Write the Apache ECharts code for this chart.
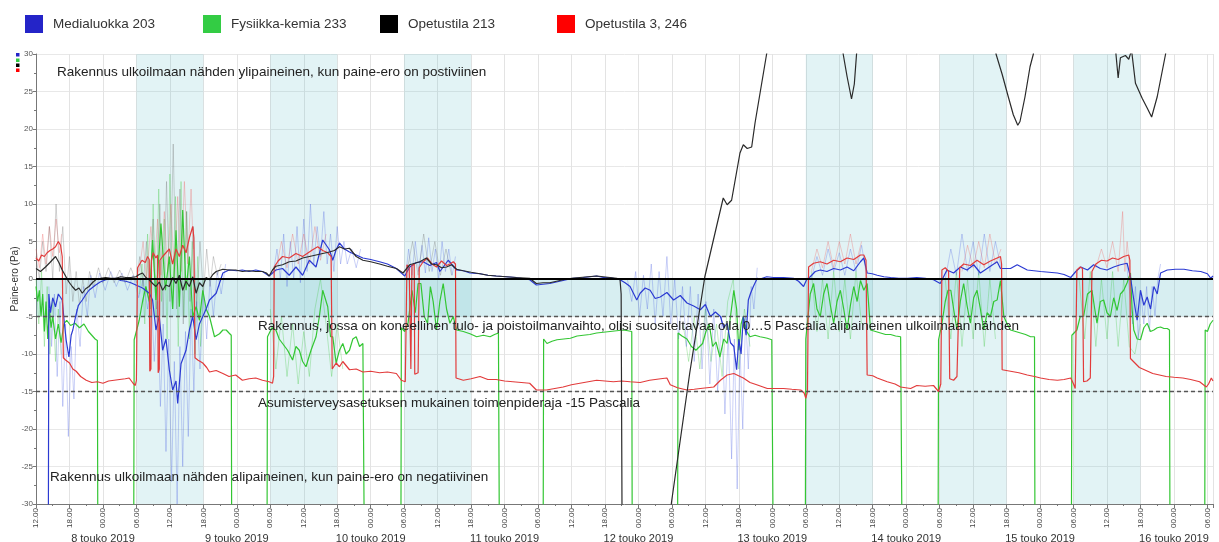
<!DOCTYPE html>
<html>
<head>
<meta charset="utf-8">
<script src="https://cdn.jsdelivr.net/npm/echarts@6/dist/echarts.min.js"></script>
<style>
html,body{margin:0;padding:0;background:#fff;}
#chart{width:1219px;height:542px;}
</style>
</head>
<body>
<div id="chart"></div>
<script>
// x values: hours since 7 May 2019 00:00
const seriesNames = ['Medialuokka 203', 'Fysiikka-kemia 233', 'Opetustila 213', 'Opetustila 3, 246'];
const dayBands = [[30,42],[54,66],[78,90],[150,162],[174,186],[198,210]];
const refLevels = [-5, -15];
const xMin = 12, xMax = 223;

const blueMain = [[12,-40],[14.2,-40],[14.3,-2],[14.6,-4.5],[15,-2.5],[15.5,-3.7],[16,-2],[16.7,-2.8],[17.1,-6],[17.4,-8.1],[17.9,-10.4],[18.3,-7.5],[18.6,-6.8],[19.1,-5],[19.6,-3.5],[20.3,-2.8],[21,-2],[21.5,-1.5],[22.7,-0.8],[23.5,-0.4],[24.5,-0.1],[25.5,0],[26.3,0.1],[27.2,-0.2],[28.1,-0.3],[29,-0.5],[29.9,-0.8],[31.1,-1.2],[32.3,-1.9],[32.9,-2.8],[33.5,-6.8],[34.1,-5],[34.7,-9.5],[35.3,-8],[35.9,-12.1],[36.5,-14.8],[37.1,-13.6],[37.4,-16.6],[38,-11.3],[38.9,-9.5],[39.5,-6.8],[40.1,-5],[40.7,-8.1],[41.3,-6],[41.9,-5],[42.5,-4],[43.1,-2.8],[44.3,-1.9],[45.5,0.8],[46.6,1.2],[48,1.1],[49,1.2],[50.2,1],[51.4,1.2],[52.6,1],[53.8,0.4],[55,1.2],[56.2,1.4],[57.4,0.5],[58.6,1.6],[59.8,0.5],[61,2.5],[62.2,1.6],[63.4,5.2],[64.6,3.9],[65.2,2.5],[65.8,3.9],[66.4,4.8],[67.3,4.0],[68.2,3.6],[69.4,3.2],[70.6,2.8],[72,2.6],[73.6,2.3],[75,2.0],[76.6,1.4],[78.1,0.4],[79,1.6],[80.2,2.2],[81.4,2.3],[82.6,1.8],[83.8,2.2],[84.4,1.0],[85.9,2.5],[87.4,1.2],[88.6,1.1],[89.8,0.8],[91.6,0.7],[93,0.5],[94.5,0.4],[96.3,0.3],[98.1,0.2],[100.5,-0.1],[101.7,-0.8],[102.9,-0.7],[104.1,-0.6],[105.3,-0.4],[106.5,-0.2],[108.3,0.1],[110.1,0.2],[112.5,0.4],[113.7,0.2],[114.9,0.2],[116.7,-0.1],[117.6,-0.5],[118.5,-1.0],[119.7,-2.8],[120.3,-1.9],[121.2,-1.2],[122.1,-1.5],[123,-2.6],[123.9,-2.4],[125.1,-1.8],[126.3,-2.8],[127.5,-2.2],[128.7,-3.2],[129.9,-3.6],[131.1,-4.1],[132,-3.4],[132.9,-5],[133.8,-4.4],[134.7,-5],[135.3,-6.5],[135.9,-5.9],[136.5,-8.5],[137.1,-9],[137.6,-12.1],[138,-8],[138.4,-10],[138.8,-5],[139.3,-7.5],[139.7,-2.8],[140.1,-1.9],[140.6,-1],[141.3,0.1],[141.8,0],[143,0.3],[144.2,0.2],[146,0.2],[147.8,0.1],[148.7,-0.3],[149.6,-1],[150.2,0],[150.8,0.3],[151.7,1.0],[152.6,1.2],[153.8,1.0],[155,1.4],[156.2,1.2],[157.4,1.6],[158.6,1.1],[159.8,2.3],[160.4,2.8],[161,0.8],[161.9,0.7],[162.8,0.5],[164,0.3],[165.2,0.2],[166.7,0.1],[168.2,0.1],[169.9,0.2],[171.4,0.1],[172.9,-0.1],[174.1,-0.6],[175.3,1.2],[176.5,0.8],[177.7,1.6],[178.9,1.2],[180.1,1.9],[181.3,0.8],[182.5,1.4],[184.3,2.3],[184.9,1.4],[186.7,1.4],[187.9,1.9],[189.7,1.2],[190.9,1.1],[192.1,1],[193.6,0.9],[195.1,0.8],[196.3,0.6],[197.5,0.2],[198.4,1.0],[199.3,1.6],[200.5,1.2],[201.6,1.9],[202.8,1.4],[204,1.2],[205.2,1.6],[206.4,1.9],[207.6,2.1],[208.2,0.3],[208.8,-2.8],[209.4,-5.5],[210,-1.5],[210.6,-3.5],[211.2,-2.4],[211.8,-4],[212.4,-1],[213,-2],[213.6,0.8],[214.8,1.2],[216.3,1.3],[217.8,1.3],[219.3,1.1],[220.8,1.0],[222,0.7],[222.6,0.1],[223,0.4]];

const greenMain = [[12,-1.0],[12.3,-3],[12.6,-1.5],[12.9,-5],[13.2,-2],[13.5,-7],[13.8,-3],[14.1,-8],[14.4,-4],[14.7,-6.5],[15,-5],[15.5,-8],[16,-6],[16.5,-8.5],[17,-6],[17.5,-5.5],[18.2,-6.2],[19,-5.9],[19.8,-6.5],[20.6,-6],[21.4,-7],[22,-7.5],[22.6,-8],[23,-8.2],[23.1,-40],[29.5,-40],[29.6,-8.1],[30.5,-5.5],[31.1,-3],[31.7,-1],[32.3,-3],[32.9,5.2],[33.5,-2.8],[34.4,7.4],[35.2,-1.5],[35.9,3.0],[36.5,-4],[37.1,6.5],[37.7,-3.7],[38.3,9.2],[38.9,-1.5],[39.5,3.0],[40.1,-5],[40.7,-3.7],[41.3,-5.5],[41.9,-1.5],[42.5,-4],[43.1,-5],[44,-7.7],[44.9,-7.3],[45.5,-6.8],[46.1,-6.8],[46.6,-7.2],[47,-7.5],[47.1,-40],[53.4,-40],[53.5,-7.7],[54.3,-6.5],[55,-6.8],[55.6,-8],[56.2,-8.6],[57.1,-9.5],[58,-10.8],[58.6,-9],[59.2,-9.5],[59.8,-11],[60.4,-11.7],[61.3,-9.5],[62.2,-7.7],[62.8,-5],[63.4,-1.5],[64.3,-3.7],[64.8,-7.7],[65.2,-7.7],[65.8,-11.2],[66.4,-9.5],[67,-8.6],[67.6,-10],[68.2,-9.5],[68.8,-8],[69.4,-7.7],[70,-9],[70.6,-8.6],[70.8,-8.8],[70.9,-40],[77.4,-40],[77.5,-6.5],[78.1,-7],[78.7,-5.9],[79.4,-1.5],[80,-4.5],[80.5,-0.6],[81,-0.6],[81.6,-5],[82.2,-5.9],[82.7,-1.0],[83.2,-3],[83.8,-6.8],[84.4,-3],[85,-0.6],[85.6,-4],[86.2,-5.9],[86.8,-5],[87.4,-6.8],[88.6,-7.0],[89.8,-7.3],[91,-7.7],[92.2,-7.5],[93.4,-7.7],[94.2,-7.4],[94.9,-7.2],[95.1,-40],[102.9,-40],[103,-8.0],[103.6,-8.6],[104.5,-8.3],[105.4,-8.1],[106.6,-8.0],[107.8,-7.9],[109,-7.6],[110.1,-7.5],[111.3,-7.4],[112.5,-7.2],[113.7,-7.1],[114.9,-7.0],[116.1,-6.9],[117.3,-6.8],[118.1,-6.9],[118.8,-7.0],[118.9,-40],[127,-40],[127.1,-7.2],[127.8,-7.6],[128.7,-8],[129.5,-9],[130.3,-9.5],[131.5,-8.6],[132.1,-7],[132.7,-6],[133.3,-9],[133.9,-8.4],[134.6,-10.4],[135.3,-8],[135.9,-8.6],[136.5,-5],[137.1,-1.5],[137.6,-4],[138,-9.5],[138.4,-6],[138.8,-5],[139.4,-7],[140,-7.7],[140.9,-7.5],[141.8,-7.7],[142.5,-7.8],[143.1,-7.9],[143.9,-8.1],[144.1,-8.0],[144.2,-40],[149.9,-40],[150,-8.0],[150.4,-5],[150.8,-2],[151.4,-0.6],[152,-4],[152.6,-5],[153.2,-2],[153.8,-0.6],[154.4,-3.5],[155,-5.9],[155.6,-3],[156.2,-1.5],[156.8,-4],[157.4,-6.8],[158,-3.5],[158.6,-1],[159.2,-3],[159.8,-0.2],[160.4,-1.5],[161,-0.6],[161.6,-6.8],[162.5,-7.0],[163.4,-7.2],[164.3,-7.4],[165.2,-7.4],[166.1,-7.6],[167,-7.7],[167.2,-7.8],[167.3,-40],[173.7,-40],[173.8,-8.1],[174.4,-6],[175,-3],[175.5,-1.5],[176,-1.5],[176.5,-4],[177.1,-6.8],[177.7,-3],[178.3,-0.6],[178.9,-3.5],[179.5,-5.9],[180.1,-2.5],[180.7,-1.5],[181.3,-4],[181.9,-6.8],[182.5,-4.5],[183.1,-5],[183.7,-3],[184.3,-2.8],[184.9,-0.2],[185.5,-5],[186.1,-6],[186.7,-6.8],[187.6,-7.0],[188.5,-7.2],[189.4,-7.4],[190.3,-7.7],[191,-7.7],[191.1,-40],[197.6,-40],[197.7,-7.5],[198.6,-6.8],[199.2,-5],[199.8,-5],[200.5,-2],[201.3,-1.5],[201.8,-4],[202.2,-5.9],[202.8,-3],[203.4,-2.8],[204,-4.5],[204.6,-5],[205.2,-2.5],[205.8,-4.2],[206.4,-2],[207,-1.5],[207.6,-0.5],[208.2,0.8],[208.5,-4],[208.8,-6.8],[209.4,-8],[210,-8.1],[210.6,-6.5],[211.2,-5.9],[211.8,-7],[212.4,-6.8],[213,-6.5],[213.6,-6.4],[214.2,-6.6],[214.8,-6.6],[215.2,-6.8],[215.3,-40],[221.5,-40],[221.6,-6.8],[222,-7.0],[222.5,-6],[223,-5.5]];

const blackMain = [[12,1.4],[12.8,1.0],[13.7,1.6],[14.5,2.2],[15.5,3.0],[16.1,2.2],[16.7,1.2],[17.3,0.4],[17.9,-0.4],[18.5,-1.0],[19.1,-1.5],[19.7,-1.2],[20.3,-1.9],[20.9,-1.3],[21.5,-1.0],[22.1,-0.5],[22.7,-0.1],[23.6,0.1],[24.5,0.2],[25.4,0.1],[26.3,0.1],[27.2,0.3],[28.1,0.2],[29,0.2],[29.9,0.3],[30.5,0.6],[31.1,0.8],[31.7,0.2],[32.3,-0.1],[32.9,-0.6],[33.5,-1.0],[34.1,-0.4],[34.7,-1.5],[35.3,-0.8],[35.9,-1.0],[36.5,0.2],[37.1,-0.6],[37.7,0.5],[38.3,-1.5],[38.9,-0.3],[39.5,-1.0],[40.1,0.3],[40.7,-1.9],[41.3,-0.5],[41.9,-1.0],[42.5,0.2],[43.1,-0.1],[43.7,0.6],[44.3,1.0],[45.5,1.3],[46.6,1.2],[47.8,1.2],[49,1.0],[50.2,1.1],[51.4,1.0],[52.6,1.0],[53.3,0.8],[53.8,0.4],[54.4,1.2],[55,1.7],[56.2,1.9],[57.4,2.3],[58.6,2.4],[59.8,2.8],[61,3.0],[62.2,3.2],[63.4,3.4],[64.6,3.6],[65.5,3.8],[66.4,4.3],[67.3,4.0],[68.2,4.1],[69.4,3.0],[70.6,2.5],[72,2.3],[73.6,2.0],[75,1.7],[76.6,1.4],[77.8,0.8],[79,1.9],[79.9,2.1],[80.8,2.3],[82,2.8],[82.9,2.0],[83.8,1.9],[84.7,1.5],[85.6,1.6],[86.5,1.9],[87.4,1.3],[88.6,1.1],[90,0.9],[91.6,0.7],[93,0.5],[94.5,0.4],[96.3,0.3],[98.1,0.2],[100.5,0.1],[101.7,-0.6],[102.9,-0.5],[104.1,-0.5],[105.3,-0.3],[106.5,-0.1],[108,0.1],[109.5,0.2],[111,0.3],[112.5,0.4],[113.7,0.3],[114.9,0.2],[116.1,0.1],[116.7,-0.1],[116.9,-2],[117.1,-40],[125.8,-40],[125.9,-29.9],[129.2,-12.5],[131.9,0.3],[134,7.0],[135.2,10.8],[135.9,9.9],[136.7,10.5],[138.2,16.8],[138.8,17.9],[139.5,17.4],[140.3,17.6],[140.9,20.8],[143,30.1],[144,40],[156,40],[156.7,30],[157.4,27],[158.2,24.0],[158.7,26],[159.1,30],[159.8,40],[183.5,40],[184.1,30],[185.2,27.3],[186.3,24.3],[187.2,21.9],[188.0,20.5],[188.4,21.0],[189.3,24.3],[190.2,28.3],[190.8,30],[191.5,40],[205,40],[205.6,30],[206.0,26.8],[206.4,29.5],[207.3,29.8],[207.9,29.3],[208.4,30.5],[209.1,26.1],[210.3,24.1],[211.2,22.8],[212.0,21.6],[213.0,24.3],[214.5,30],[215.2,40],[223,40]];

const redMain = [[12,2.8],[12.5,2.4],[13,3.2],[13.5,3.0],[14,3.5],[14.5,3.8],[15,4.0],[15.5,4.3],[16,5.0],[16.4,4.5],[16.7,3.0],[16.9,-10.5],[17.3,-10.8],[18,-11.2],[18.6,-12.0],[19.2,-12.3],[20,-13.0],[21,-13.5],[22,-13.8],[23,-13.7],[24,-13.9],[25,-13.6],[26,-13.5],[27,-13.4],[28,-13.3],[28.7,-13.2],[29.4,-13.9],[29.8,-14.2],[30,-13.5],[30.2,1.5],[30.6,2.0],[31,2.5],[31.6,2.2],[32,3.0],[32.3,2.6],[32.4,-12.3],[32.6,-12.0],[32.7,2.5],[33,3.5],[33.5,2.8],[33.8,3.2],[33.9,-12.5],[34.1,-12.0],[34.2,2.5],[34.7,3.0],[35.3,3.5],[35.9,4.0],[36.5,2.0],[37.1,4.0],[37.7,3.0],[38.3,4.5],[38.9,3.5],[39.5,5.5],[40.1,7.0],[40.3,5.5],[40.5,-10.5],[41,-10.8],[41.9,-11.2],[42.6,-11.8],[43.1,-12.4],[44.3,-12.2],[45.5,-12.6],[46.6,-13.0],[47.8,-12.8],[49,-13.5],[50.2,-13.3],[51.4,-13.2],[52.6,-13.5],[53.8,-13.7],[54.4,-13.9],[54.6,-13.0],[54.7,1.6],[55.4,2.4],[56.2,3.0],[57.4,2.8],[58.6,3.4],[59.8,3.0],[61,3.6],[61.6,3.9],[62.5,4.3],[63.4,3.8],[64.3,3.5],[64.9,3.0],[65.1,-12.0],[65.8,-11.2],[66.4,-11.7],[67,-11.0],[68.2,-12.1],[69.4,-12.0],[70.6,-12.4],[72,-12.3],[73.6,-12.5],[75,-12.4],[76.6,-12.6],[77.5,-13.5],[78.2,-13.7],[78.5,1.9],[78.9,1.5],[79.2,-12.0],[79.4,1.8],[79.8,2.0],[79.9,-12.7],[80.5,-12.5],[80.7,1.5],[81.4,2.3],[82.2,2.8],[83,2.0],[83.8,1.6],[84.7,2.4],[85.6,1.8],[86.2,2.0],[86.8,2.3],[87.2,2.0],[87.3,-13.2],[88.6,-13.5],[90,-13.3],[91.6,-13.0],[93,-13.4],[94.5,-13.4],[96,-13.6],[97.5,-13.7],[99,-13.8],[100.5,-13.9],[101.7,-14.8],[103.5,-14.8],[105,-14.6],[106.5,-14.4],[108,-14.1],[109.5,-13.9],[111,-13.7],[112.5,-13.5],[114,-13.6],[115.5,-13.7],[117,-13.6],[118.5,-13.7],[120.3,-13.8],[122,-13.5],[124,-13.3],[125.1,-13.2],[125.7,-14.1],[127,-14.5],[128.7,-14.8],[130,-14.7],[131.1,-14.6],[132.3,-14.5],[133.5,-14.4],[134.7,-13.5],[135.9,-12.8],[137.1,-12.6],[138.8,-13.2],[140,-13.8],[141.2,-14.1],[143.1,-14.6],[144.5,-14.6],[146,-14.6],[147.5,-14.7],[149.1,-14.8],[149.7,-15.2],[150,-15.9],[150.3,-15.0],[150.5,1.6],[151.4,2.1],[152.6,2.3],[153.8,2.0],[155,2.5],[156.2,2.3],[157.4,2.8],[158.6,2.6],[159.8,3.2],[160.4,3.2],[160.8,2.5],[161,-12.8],[162,-12.9],[162.8,-13.2],[164.6,-13.7],[166,-14.0],[167,-14.4],[168.8,-14.6],[169.9,-14.2],[171.4,-14.3],[172.9,-14.2],[173.8,-15.0],[174.2,-14.0],[174.4,1.2],[175,1.5],[175.6,1.0],[175.8,-13.3],[176.5,-13.5],[177.1,-13.0],[177.4,-12.8],[177.6,1.5],[178.3,2.0],[179.5,1.8],[180.7,2.5],[181.9,1.9],[183.1,2.4],[184.3,2.8],[184.9,3.0],[185.1,2.0],[185.2,-12.1],[186.7,-12.3],[188.2,-12.5],[189.7,-12.8],[191,-13.0],[192.1,-13.2],[193.6,-13.4],[195.1,-13.5],[196.3,-13.4],[197.5,-13.2],[198,-14],[198.3,-14.6],[198.6,1.2],[199.2,1.6],[199.6,1.4],[199.8,-13.7],[200.4,-13.6],[201,-13.2],[201.3,1.0],[202,2.0],[203,2.5],[204,2.4],[205,2.8],[206,2.6],[207,3.0],[207.9,3.2],[208.1,2.5],[208.2,-10.6],[209,-11.2],[209.8,-11.8],[211,-12.2],[212.2,-12.6],[213.4,-12.8],[214.6,-13.0],[216,-13.1],[217.6,-13.2],[219,-13.4],[220.6,-13.7],[221.8,-14.4],[222.2,-14.0],[222.7,-13.2],[223,-13.6]];

// lighter min/max scatter of the raw readings, as separate segments
const blueSpikes = [
 [[14.3,-1],[14.8,-9],[15.3,-2],[15.8,-13],[16.3,-3],[16.8,-17],[17.3,-6],[17.8,-21],[18.3,-9],[18.8,-16],[19.3,-4],[19.9,-9],[20.5,-1],[21.2,-5],[21.8,0.5],[22.6,-2.5],[23.4,0.8],[24.4,-1.5],[25.4,1],[26.4,-1],[27.4,0.8],[28.4,-1.5],[29.4,0.5],[30.4,-2.5],[31.2,0],[32,-4],[32.6,-1],[33.2,-11],[33.8,-3],[34.3,-17],[34.8,-6],[35.3,-23],[35.8,-8],[36.3,-27],[36.8,-11],[37.3,-30],[37.8,-9],[38.3,-25],[38.8,-7],[39.3,-21],[39.8,-4],[40.3,-15],[40.8,-3],[41.4,-12],[42,-2],[42.6,-8],[43.2,0],[43.8,-5],[44.5,1],[45.2,-2],[46,2]],
 [[54.5,0.5],[55.2,4],[55.8,0],[56.4,6],[57,-1],[57.6,5],[58.2,0],[58.8,7],[59.4,-0.5],[60,8],[60.6,1],[61.2,10],[61.8,2],[62.4,7],[63,3],[63.6,9],[64.2,2],[64.8,6],[65.4,1],[66,7],[66.6,2],[67.2,5],[67.8,2],[68.6,4],[69.4,1.5],[70.2,4]],
 [[78.2,0],[78.8,4],[79.4,0.5],[80,5],[80.6,1],[81.2,4.5],[81.8,0.8],[82.4,5.5],[83,1],[83.6,4],[84.2,0],[84.8,5],[85.4,1],[86,4],[86.6,0.5],[87.2,3]],
 [[118,0],[118.8,-3],[119.5,1],[120.2,-5],[120.9,0.5],[121.6,-4],[122.3,2],[123,-6],[123.7,1],[124.4,-5],[125.1,3],[125.8,-6],[126.5,0],[127.2,-8],[127.9,-1],[128.6,-9],[129.3,-1],[130,-11],[130.7,-2],[131.4,-12],[132.1,-3],[132.8,-14],[133.5,-4],[134.2,-15],[134.9,-5],[135.5,-18],[136.1,-7],[136.7,-24],[137.2,-8],[137.7,-28],[138.2,-9],[138.7,-20],[139.2,-5],[139.7,-12],[140.2,-1],[140.7,-4],[141.3,1.5]],
 [[151,0],[152,3],[153,0.5],[154,4],[155,1],[156,3.5],[157,0.5],[158,4],[159,1],[160,4.5],[161,0]],
 [[175,0],[176,4],[177,0.5],[178,6],[179,1],[180,5],[181,0.5],[182,6],[183,1],[184,5],[185,1.5]],
 [[207.5,2],[208.1,-2],[208.6,-6],[209.1,-1],[209.6,-8],[210.1,-2],[210.6,-6],[211.1,-1],[211.6,-7],[212.1,-1],[212.6,-5],[213.1,0],[213.6,2]]
];
const greenSpikes = [
 [[12,0],[12.5,-6],[13,1],[13.5,-9],[14,-1],[14.5,-10],[15,-3],[15.5,-11],[16,-4],[16.5,-10]],
 [[30.5,-2],[31,2],[31.5,-6],[32,6],[32.5,-4],[33,10],[33.5,-5],[34,12],[34.5,-3],[35,8],[35.5,-8],[36,14],[36.5,-4],[37,11],[37.5,-9],[38,13],[38.5,-5],[39,9],[39.5,-8],[40,5],[40.5,-10],[41,3],[41.5,-9],[42,0]],
 [[54,-4],[55,-12],[56,-5],[57,-13],[58,-6],[59,-14],[60,-7],[61,-13],[62,-4],[63,0],[64,-6],[65,-13],[66,-6],[67,-12]],
 [[128,-6],[129,-11],[130,-5],[131,-12],[132,-4],[133,-11],[134,-6],[135,-13],[136,-3],[137,0],[138,-12],[139,-4],[140,-9]],
 [[151,1],[152,-7],[153,0],[154,-8],[155,1],[156,-7],[157,0],[158,-8],[159,1],[160,-6]],
 [[175,0],[176,-8],[177,1],[178,-9],[179,0],[180,-8],[181,1],[182,-9],[183,0],[184,-8]],
 [[199,0],[200,-8],[201,1],[202,-9],[203,0],[204,-8],[205,1],[206,-9],[207,0],[208,-9],[209,-10],[210,-6]]
];
const blackSpikes = [
 [[12,3],[12.6,0],[13.2,5],[13.8,1],[14.4,7],[15,0],[15.6,10],[16.2,1],[16.8,7],[17.4,-2],[18,3],[18.6,-3],[19.2,1],[19.8,-3.5],[20.4,0],[21,-3],[21.6,1],[22.4,-1],[23.2,1.5],[24,-0.5],[25,1.5],[26,-0.5],[27,1.2],[28,-0.5],[29,1.5],[30,-0.5],[30.6,3],[31.2,-1],[31.8,5],[32.4,-3],[33,8],[33.6,-4],[34.2,10],[34.8,-5],[35.4,13],[36,-3],[36.6,18],[37.2,-4],[37.8,12],[38.4,-6],[39,9],[39.6,-3],[40.2,7],[40.8,-4],[41.4,5],[42,-2],[42.6,4],[43.2,-1],[43.8,3],[44.5,0.5],[45.2,2]],
 [[78.5,1],[79.5,5],[80.5,0.5],[81.5,6],[82.5,1],[83.5,5],[84.5,0.5],[85.5,4],[86.5,0.5]]
];
const redSpikes = [
 [[12,4],[12.6,1.5],[13.2,6],[13.8,2],[14.4,7],[15,3],[15.6,8],[16.2,3.5],[16.6,6]],
 [[30.5,1],[31.2,5],[31.8,0],[32.6,7],[33.2,1],[33.8,8],[34.4,0.5],[35,9],[35.6,1],[36.2,10],[36.8,0],[37.4,11],[38,1],[38.6,13],[39.2,2],[39.8,12],[40.2,4]],
 [[55,1],[56,5],[57,1.5],[58,6],[59,2],[60,6],[61,2],[62,7],[63,2.5],[64,6]],
 [[151,1],[152,4],[153,1.5],[154,5],[155,1.5],[156,5],[157,2],[158,6],[159,2],[160,5]],
 [[178,1],[179,4.5],[180,1.5],[181,5],[182,1.5],[183,6],[184,2],[185,4]],
 [[202,1.5],[203,4],[204,1.5],[205,5],[206,1],[206.8,9],[207.2,1],[207.6,5],[208,2]]
];

const colors = {
  main: ['#2b3ad2', '#33c633', '#2a2a2a', '#e23b3b'],
  light: ['rgba(70,90,225,0.28)', 'rgba(60,200,60,0.3)', 'rgba(110,110,110,0.3)', 'rgba(240,90,90,0.3)'],
  legend: ['#2424c8', '#33cc44', '#000000', '#ff0000']
};

function joinSegments(segs) {
  const out = [];
  segs.forEach((s, i) => {
    if (i > 0) out.push([s[0][0] - 0.01, '-']);
    s.forEach(p => out.push(p));
  });
  return out;
}

const mains = [blueMain, greenMain, blackMain, redMain];
const spikes = [blueSpikes, greenSpikes, blackSpikes, redSpikes];
const drawOrder = [1, 0, 3, 2];

const series = [];
// background bands
series.push({
  type: 'line', data: [], z: 1, silent: true,
  markArea: {
    silent: true,
    data: dayBands.map(b => [{ xAxis: b[0], itemStyle: { color: 'rgba(100,190,200,0.19)' } }, { xAxis: b[1] }])
      .concat([[{ yAxis: 0, itemStyle: { color: 'rgba(100,190,200,0.26)' } }, { yAxis: -5 }]])
  }
});
drawOrder.forEach(i => {
  series.push({
    name: seriesNames[i] + ' (hajonta)', type: 'line', data: joinSegments(spikes[i]),
    showSymbol: false, z: 2, silent: true, connectNulls: false,
    lineStyle: { color: colors.light[i], width: 1 }
  });
});
drawOrder.forEach(i => {
  series.push({
    name: seriesNames[i], type: 'line', data: mains[i],
    showSymbol: false, z: 3, silent: true,
    itemStyle: { color: colors.legend[i] },
    lineStyle: { color: colors.main[i], width: 1.2 }
  });
});
// reference lines
series.push({
  type: 'line', data: [], z: 5, silent: true,
  markLine: {
    silent: true, symbol: 'none', label: { show: false },
    data: [{ yAxis: 0, lineStyle: { color: '#000', width: 2, type: 'solid' } }]
      .concat(refLevels.map(v => ({ yAxis: v, lineStyle: { color: '#555', width: 1.3, type: [4, 3] } })))
  }
});

const legendLefts = [20, 198, 375, 552];
const legends = seriesNames.map((n, i) => ({
  data: [{ name: n, itemStyle: { color: colors.legend[i] } }],
  left: legendLefts[i], top: 10, icon: 'rect', itemWidth: 18, itemHeight: 18,
  selectedMode: false,
  textStyle: { fontSize: 13.5, color: '#333', fontFamily: 'Liberation Sans, Arial, sans-serif', padding: [0, 0, 0, 5] }
}));

const annotations = [
  { text: 'Rakennus ulkoilmaan nähden ylipaineinen, kun paine-ero on postiviinen', x: 57, y: 72.5 },
  { text: 'Rakennus, jossa on koneellinen tulo- ja poistoilmanvaihto, olisi suositeltavaa olla 0…5 Pascalia alipaineinen ulkoilmaan nähden', x: 258, y: 326.5 },
  { text: 'Asumisterveysasetuksen mukainen toimenpideraja -15 Pascalia', x: 258, y: 403 },
  { text: 'Rakennus ulkoilmaan nähden alipaineinen, kun paine-ero on negatiivinen', x: 50, y: 477.5 }
];
const markerColors = ['#2424c8', '#33cc44', '#000000', '#ff0000'];
const markerTops = [53, 58.5, 63.5, 68.5];

const graphic = annotations.map(a => ({
  type: 'text', x: a.x, y: a.y, z: 100, silent: true,
  style: { text: a.text, fill: '#222', font: '13.5px "Liberation Sans", Arial, sans-serif', verticalAlign: 'middle' }
})).concat(markerColors.map((c, i) => ({
  type: 'rect', z: 100, silent: true, shape: { x: 16, y: markerTops[i], width: 3.5, height: 3.5 }, style: { fill: c }
})));

const chart = echarts.init(document.getElementById('chart'), null, { renderer: 'canvas' });
chart.setOption({
  animation: false,
  backgroundColor: '#ffffff',
  textStyle: { fontFamily: 'Liberation Sans, Arial, sans-serif' },
  legend: legends,
  grid: { left: 36, right: 6, top: 54, bottom: 38, containLabel: false, outerBoundsMode: 'none' },
  xAxis: [{
    type: 'value', min: xMin, max: xMax, interval: 6,
    axisLine: { show: true, onZero: false, lineStyle: { color: '#777', width: 1 } },
    axisTick: { show: true, length: 4, lineStyle: { color: '#777' } },
    minorTick: { show: true, splitNumber: 2, length: 2, lineStyle: { color: '#777' } },
    splitLine: { show: true, lineStyle: { color: '#e3e3e3', width: 1 } },
    axisLabel: {
      rotate: 90, fontSize: 8, color: '#444', margin: 4, showMaxLabel: false,
      formatter: v => {
        const hh = Math.round(((v % 24) + 24) % 24);
        if (Math.abs(v - Math.round(v)) > 1e-6 || hh % 6 !== 0) return '';
        return String(hh).padStart(2, '0') + '.00';
      }
    }
  }, {
    type: 'value', min: xMin, max: xMax, interval: 12, position: 'bottom', offset: 24,
    axisLine: { show: false }, axisTick: { show: false }, splitLine: { show: false },
    axisLabel: {
      fontSize: 11, color: '#333', margin: 5, showMaxLabel: false, showMinLabel: false,
      formatter: v => (Math.round(v) % 24 === 0 ? (7 + Math.round(v) / 24) + ' touko 2019' : '')
    }
  }],
  yAxis: {
    type: 'value', min: -30, max: 30, interval: 5,
    name: 'Paine-ero (Pa)', nameLocation: 'middle', nameRotate: 90, nameGap: 16, nameMoveOverlap: false,
    nameTextStyle: { fontSize: 10, color: '#333', padding: [0, 0, 0, 0] },
    axisLine: { show: true, lineStyle: { color: '#777' } },
    axisTick: { show: true, length: 3, lineStyle: { color: '#777' } },
    minorTick: { show: true, splitNumber: 2, length: 2, lineStyle: { color: '#777' } },
    splitLine: { show: true, lineStyle: { color: '#e8e8e8' } },
    axisLabel: { fontSize: 8, color: '#555', margin: 3 }
  },
  series: series,
  graphic: graphic
});
</script>
</body>
</html>
